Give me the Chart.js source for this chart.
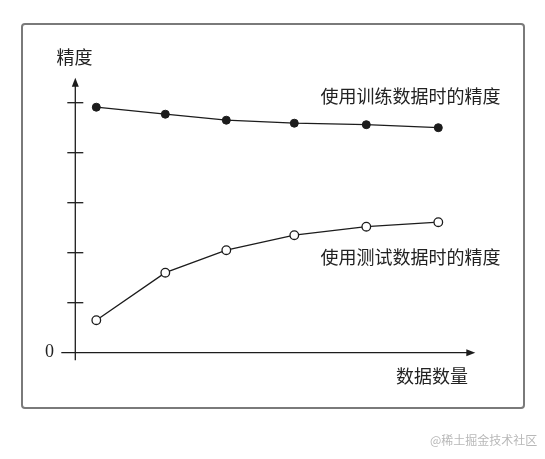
<!DOCTYPE html>
<html>
<head>
<meta charset="utf-8">
<script src="https://cdn.jsdelivr.net/npm/chart.js@4/dist/chart.umd.min.js"></script>
<style>
    html, body { margin: 0; padding: 0; background: #fff; }
    #wrap { position: relative; width: 545px; height: 459px; }
    #frame {
        position: absolute; left: 21px; top: 23px;
        width: 500px; height: 382px;
        border: 2px solid #7a7a7a; border-radius: 4px;
    }
    #chart { position: absolute; left: 0; top: 0; }
    #mark {
        position: absolute; left: 430px; top: 431px;
        font: 12px "Noto Sans CJK SC", sans-serif; color: #b8b8b8;
    }
</style>
</head>
<body>
<div id="wrap">
    <div id="frame"></div>
    <canvas id="chart" width="545" height="459"></canvas>
    <div id="mark">@稀土掘金技术社区</div>
</div>
<script>
// Values (y: one tick = 1 unit, x: arbitrary data amount)
const dataSizes = [2.1, 9.0, 15.1, 21.9, 29.1, 36.3];
const trainAccuracy = [4.91, 4.77, 4.65, 4.59, 4.56, 4.50];
const testAccuracy = [0.65, 1.60, 2.05, 2.35, 2.52, 2.61];
const yTicks = [1, 2, 3, 4, 5];

const yLabel = '精度';
const xLabel = '数据数量';
const trainLabel = '使用训练数据时的精度';
const testLabel = '使用测试数据时的精度';

const ink = '#1c1c1c';
const cjkFont = '18px "Noto Sans CJK SC", sans-serif';

function toPoints(xs, ys) {
    return xs.map((x, i) => ({ x: x, y: ys[i] }));
}

// Draws the arrowed axes, tick marks and all text labels
const axesPlugin = {
    id: 'axes',
    afterDraw(chart) {
        const ctx = chart.ctx;
        const xs = chart.scales.x;
        const ys = chart.scales.y;
        const area = chart.chartArea;
        const x0 = xs.getPixelForValue(0);
        const y0 = ys.getPixelForValue(0);

        ctx.save();
        ctx.strokeStyle = ink;
        ctx.fillStyle = ink;
        ctx.lineWidth = 1.3;

        // x axis
        ctx.beginPath();
        ctx.moveTo(area.left, y0);
        ctx.lineTo(area.right - 4, y0);
        ctx.stroke();
        ctx.beginPath();
        ctx.moveTo(area.right, y0);
        ctx.lineTo(area.right - 9, y0 - 3.5);
        ctx.lineTo(area.right - 9, y0 + 3.5);
        ctx.closePath();
        ctx.fill();

        // y axis
        ctx.beginPath();
        ctx.moveTo(x0, area.bottom);
        ctx.lineTo(x0, area.top + 4);
        ctx.stroke();
        ctx.beginPath();
        ctx.moveTo(x0, area.top);
        ctx.lineTo(x0 - 3.5, area.top + 9);
        ctx.lineTo(x0 + 3.5, area.top + 9);
        ctx.closePath();
        ctx.fill();

        // tick marks crossing the y axis
        yTicks.forEach(v => {
            const py = ys.getPixelForValue(v);
            ctx.beginPath();
            ctx.moveTo(x0 - 8, py);
            ctx.lineTo(x0 + 8, py);
            ctx.stroke();
        });

        // texts
        ctx.fillStyle = '#222';
        ctx.textBaseline = 'middle';
        ctx.font = '18px "Liberation Serif", serif';
        ctx.textAlign = 'center';
        ctx.fillText('0', 49.5, y0);

        ctx.font = cjkFont;
        ctx.textAlign = 'left';
        ctx.fillText(yLabel, 56.5, 57);
        ctx.fillText(xLabel, 396, 376);
        ctx.textAlign = 'right';
        ctx.fillText(trainLabel, 500.5, 96);
        ctx.fillText(testLabel, 500.5, 257);
        ctx.restore();
    }
};

function initChart() {
    const ctx = document.getElementById('chart').getContext('2d');
    new Chart(ctx, {
        type: 'line',
        data: {
            datasets: [{
                label: trainLabel,
                data: toPoints(dataSizes, trainAccuracy),
                borderColor: ink,
                borderWidth: 1.3,
                pointRadius: 4,
                pointBackgroundColor: ink,
                pointBorderColor: ink,
                pointBorderWidth: 1,
                tension: 0
            }, {
                label: testLabel,
                data: toPoints(dataSizes, testAccuracy),
                borderColor: ink,
                borderWidth: 1.3,
                pointRadius: 4.3,
                pointBackgroundColor: '#fff',
                pointBorderColor: ink,
                pointBorderWidth: 1.3,
                tension: 0
            }]
        },
        options: {
            responsive: false,
            animation: false,
            events: [],
            layout: {
                padding: { left: 61.3, right: 69.7, top: 77.7, bottom: 98.8 }
            },
            plugins: {
                legend: { display: false },
                tooltip: { enabled: false }
            },
            scales: {
                x: { type: 'linear', min: -1.4, max: 40, display: false },
                y: { type: 'linear', min: -0.15, max: 5.5, display: false }
            }
        },
        plugins: [axesPlugin]
    });
}

document.addEventListener('DOMContentLoaded', initChart);
</script>
</body>
</html>
